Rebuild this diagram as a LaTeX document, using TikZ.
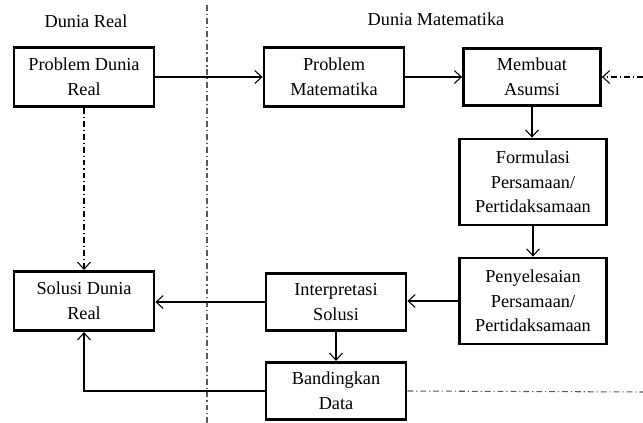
\documentclass[tikz,border=0pt]{standalone}
\usepackage{fontspec}
\setmainfont{Liberation Serif}
\usepackage{tikz}
\usetikzlibrary{arrows.meta}

\tikzset{
  box/.style={draw=black, line width=2.4pt, fill=white, minimum width=4.2cm, minimum height=1.78cm, align=center, inner sep=2pt},
  bigbox/.style={box, minimum width=4.41cm, minimum height=2.58cm},
  flow/.style={draw=black, line width=0.9pt, -{Straight Barb[length=6pt,width=11pt,line width=0.9pt]}},
  dashdot/.style={line width=0.9pt, dash pattern=on 5pt off 2.5pt on 1pt off 2.5pt},
  lbl/.style={inner sep=0pt}
}

\begin{document}
\begin{tikzpicture}[x=0.03cm, y=-0.03cm, font=\fontsize{15.6}{21}\selectfont]
\useasboundingbox (0,0) rectangle (643,423);
% headings and separator
\node[lbl] (lblReal) at (86,21) {Dunia Real};
\node[lbl] (lblMat) at (436,19) {Dunia Matematika};
\coordinate (sepTop) at (207,5);
\coordinate (sepBot) at (207,423);
\draw[dashdot, draw=black!65] (sepTop) -- (sepBot);
% boxes
\node[box] (pdr) at (84,77) {Problem Dunia\\Real};
\node[box] (pm) at (334,77) {Problem\\Matematika};
\node[box, minimum width=4.11cm, minimum height=1.72cm] (ma) at (532,77) {Membuat\\Asumsi};
\node[bigbox] (form) at (533,182) {Formulasi\\Persamaan/\\Pertidaksamaan};
\node[bigbox] (peny) at (533,301) {Penyelesaian\\Persamaan/\\Pertidaksamaan};
\node[box, minimum height=1.72cm] (interp) at (336,302) {Interpretasi\\Solusi};
\node[box] (solusi) at (84,301) {Solusi Dunia\\Real};
\node[box, minimum height=1.72cm] (band) at (336,391) {Bandingkan\\Data};
\coordinate (rin) at (643,77);
\coordinate (rout) at (643,392);
% connectors
\draw[flow] (pdr) -- (pm);
\draw[flow] (pm) -- (ma);
\draw[flow] (ma.south) -- (ma.south |- form.north);
\draw[flow] (form.south) -- (form.south |- peny.north);
\draw[flow] (peny.west) -- (peny.west -| interp.east);
\draw[flow] (interp.west) -- (interp.west -| solusi.east);
\draw[flow] (interp.south) -- (interp.south |- band.north);
\draw[flow] (band.west) -| (solusi.south);
\draw[flow, dashdot] (pdr.south) -- (solusi.north);
\draw[flow, dashdot] (rin) -- (ma.east);
\draw[dashdot, draw=black!65] (band.east) -- (rout);
\end{tikzpicture}
\end{document}
